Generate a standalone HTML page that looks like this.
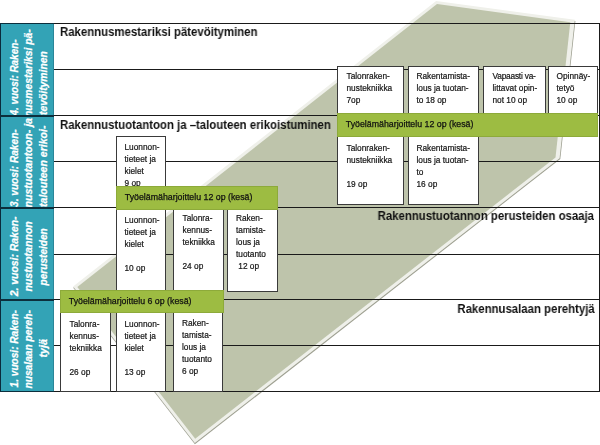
<!DOCTYPE html>
<html><head><meta charset="utf-8">
<style>
html,body{margin:0;padding:0;background:#fff;}
body{width:600px;height:445px;position:relative;overflow:hidden;font-family:"Liberation Sans",sans-serif;}
.abs{position:absolute;}
.box,.bar,.ttl{will-change:transform;}
.hl{position:absolute;left:54px;width:546px;height:1px;background:#1a1a1a;}
.teal{position:absolute;left:0;width:54px;background:#33a3b6;border-left:1px solid #0a2a3c;border-right:1px solid #2a8598;box-sizing:border-box;}
.sep{position:absolute;left:0;width:54px;background:#0c2f3d;}
.box{position:absolute;background:#fff;border:1px solid #3a3a3a;box-sizing:border-box;font-size:8.3px;line-height:12px;color:#151515;-webkit-text-stroke:0.2px #151515;white-space:nowrap;}
.bar{position:absolute;background:#9dbc42;box-sizing:border-box;font-size:8.8px;line-height:12px;color:#111;white-space:nowrap;border:1px solid #8daa3a;}
.bar span{position:absolute;left:7.8px;top:3.6px;-webkit-text-stroke:0.25px #111;}
.ttl{position:absolute;font-weight:bold;font-size:12px;line-height:14px;color:#111;white-space:nowrap;transform:scaleX(0.949);transform-origin:0 0;}
.ttl.r{transform-origin:100% 0;}
</style></head><body>
<svg class="abs" style="left:0;top:0" width="600" height="445" viewBox="0 0 600 445">
<polygon points="73.2,287.7 436.4,1.9 575.4,20.9 560.3,159.0 194.9,444.3" fill="#9d9f90"/>
<polygon points="73.1,286.5 436.1,0.9 574.8,19.8 559.6,158.2 194.8,443.1" fill="#eff0ea"/>
<polygon points="77.3,287.0 437.0,4.0 570.3,22.2 555.5,157.4 195.2,438.7" fill="#bec4ab"/>
</svg>
<!-- grid -->
<div class="hl" style="top:23px"></div>
<div class="hl" style="top:69px"></div>
<div class="hl" style="top:115px"></div>
<div class="hl" style="top:161px"></div>
<div class="hl" style="top:207px"></div>
<div class="hl" style="top:254px"></div>
<div class="hl" style="top:299px"></div>
<div class="hl" style="top:345px"></div>
<div class="hl" style="top:391px"></div>
<div class="abs" style="left:599px;top:23px;width:1px;height:369px;background:#1a1a1a"></div>
<!-- teal -->
<div class="teal" style="top:23px;height:369px"></div>
<svg class="abs" id="vtx" style="left:0;top:0" width="60" height="445" viewBox="0 0 60 445"><g fill="#fff" stroke="#fff" stroke-width="0.25" font-family="Liberation Sans, sans-serif" font-weight="bold" font-style="italic" font-size="10.5" xml:space="preserve">
<text transform="translate(17.8,115.5) rotate(-90)" textLength="76.0" lengthAdjust="spacingAndGlyphs">4. vuosi: Raken-</text>
<text transform="translate(32.4,117.0) rotate(-90)" textLength="87.7" lengthAdjust="spacingAndGlyphs">nusmestariksi pä-</text>
<text transform="translate(46.9,115.0) rotate(-90)" textLength="63.8" lengthAdjust="spacingAndGlyphs">tevöityminen</text>
<text transform="translate(17.8,207.0) rotate(-90)" textLength="77.7" lengthAdjust="spacingAndGlyphs">3. vuosi: Raken-</text>
<text transform="translate(32.4,207.5) rotate(-90)" textLength="89.5" lengthAdjust="spacingAndGlyphs">nustuotantoon- ja</text>
<text transform="translate(46.9,207.0) rotate(-90)" textLength="81.5" lengthAdjust="spacingAndGlyphs">talouteen erikoi-</text>
<text transform="translate(17.8,296.3) rotate(-90)" textLength="79.8" lengthAdjust="spacingAndGlyphs">2. vuosi:  Raken-</text>
<text transform="translate(32.4,291.6) rotate(-90)" textLength="70.4" lengthAdjust="spacingAndGlyphs">nustuotannon</text>
<text transform="translate(46.9,285.5) rotate(-90)" textLength="57.3" lengthAdjust="spacingAndGlyphs">perusteiden</text>
<text transform="translate(17.8,387.4) rotate(-90)" textLength="77.3" lengthAdjust="spacingAndGlyphs">1. vuosi: Raken-</text>
<text transform="translate(32.4,388.6) rotate(-90)" textLength="78.5" lengthAdjust="spacingAndGlyphs">nusalaan pereh-</text>
<text transform="translate(46.9,357.5) rotate(-90)" textLength="18.3" lengthAdjust="spacingAndGlyphs">tyjä</text>
</g></svg>
<div class="sep" style="top:23px;height:1px"></div>
<div class="sep" style="top:115px;height:2px"></div>
<div class="sep" style="top:206.5px;height:2px"></div>
<div class="sep" style="top:299px;height:2px"></div>
<div class="sep" style="top:391px;height:1px"></div>
<!-- titles -->
<div class="ttl" id="t1" style="left:59.5px;top:25px">Rakennusmestariksi pätevöityminen</div>
<div class="ttl" id="t2" style="left:59.5px;top:117.5px">Rakennustuotantoon ja –talouteen erikoistuminen</div>
<div class="ttl r" id="t3" style="right:5.5px;top:209px">Rakennustuotannon perusteiden osaaja</div>
<div class="ttl r" id="t4" style="right:5.5px;top:301.5px">Rakennusalaan perehtyjä</div>
<!-- row4 boxes -->
<div class="box" style="left:337px;top:66px;width:67px;height:50px;padding:3.2px 0 0 8.5px">Talonraken-<br>nustekniikka<br>7op</div>
<div class="box" style="left:408px;top:66px;width:71px;height:50px;padding:3.2px 0 0 7.5px">Rakentamista-<br>lous ja tuotan-<br>to 18 op</div>
<div class="box" style="left:483px;top:66px;width:63px;height:50px;padding:3.2px 0 0 8.5px"><span style="letter-spacing:-0.2px">Vapaasti va-</span><br>littavat opin-<br>not 10 op</div>
<div class="box" style="left:548px;top:66px;width:50px;height:50px;padding:3.2px 0 0 7.5px">Opinnäy-<br>tetyö<br>10 op</div>
<!-- row3 boxes -->
<div class="box" style="left:337px;top:134px;width:67px;height:71px;padding:7px 0 0 8.5px">Talonraken-<br>nustekniikka<br><br>19 op</div>
<div class="box" style="left:408px;top:134px;width:71px;height:71px;padding:7px 0 0 7.5px">Rakentamista-<br>lous ja tuotan-<br>to<br>16 op</div>
<div class="box" style="left:116px;top:136px;width:50px;height:55px;padding:4.46px 0 0 7.5px">Luonnon-<br>tieteet ja<br>kielet<br>9 op</div>
<!-- row2 boxes -->
<div class="box" style="left:116px;top:206px;width:50px;height:86px;padding:6.5px 0 0 7.5px">Luonnon-<br>tieteet ja<br>kielet<br><br>10 op</div>
<div class="box" style="left:173px;top:206px;width:51px;height:86px;padding:5.26px 0 0 8.5px">Talonra-<br>kennus-<br>tekniikka<br><br>24 op</div>
<div class="box" style="left:227px;top:206px;width:51px;height:86px;padding:5.26px 0 0 8px">Raken-<br>tamista-<br>lous ja<br>tuotanto<br>&nbsp;12 op</div>
<!-- row1 boxes -->
<div class="box" style="left:60px;top:310px;width:51px;height:82px;padding:6.5px 0 0 8.5px">Talonra-<br>kennus-<br>tekniikka<br><br>26 op</div>
<div class="box" style="left:116px;top:310px;width:50px;height:82px;padding:7.1px 0 0 7.5px">Luonnon-<br>tieteet ja<br>kielet<br><br>13 op</div>
<div class="box" style="left:173px;top:310px;width:50.4px;height:82px;padding:6px 0 0 8px">Raken-<br>tamista-<br>lous ja<br>tuotanto<br>6 op</div>
<!-- bars -->
<div class="bar" style="left:337px;top:113px;width:261px;height:23.5px"><span>Työelämäharjoittelu 12 op (kesä)</span></div>
<div class="bar" style="left:116px;top:186px;width:162px;height:24px"><span>Työelämäharjoittelu 12 op (kesä)</span></div>
<div class="bar" style="left:60px;top:290px;width:163.5px;height:23px"><span>Työelämäharjoittelu 6 op (kesä)</span></div>
</body></html>
